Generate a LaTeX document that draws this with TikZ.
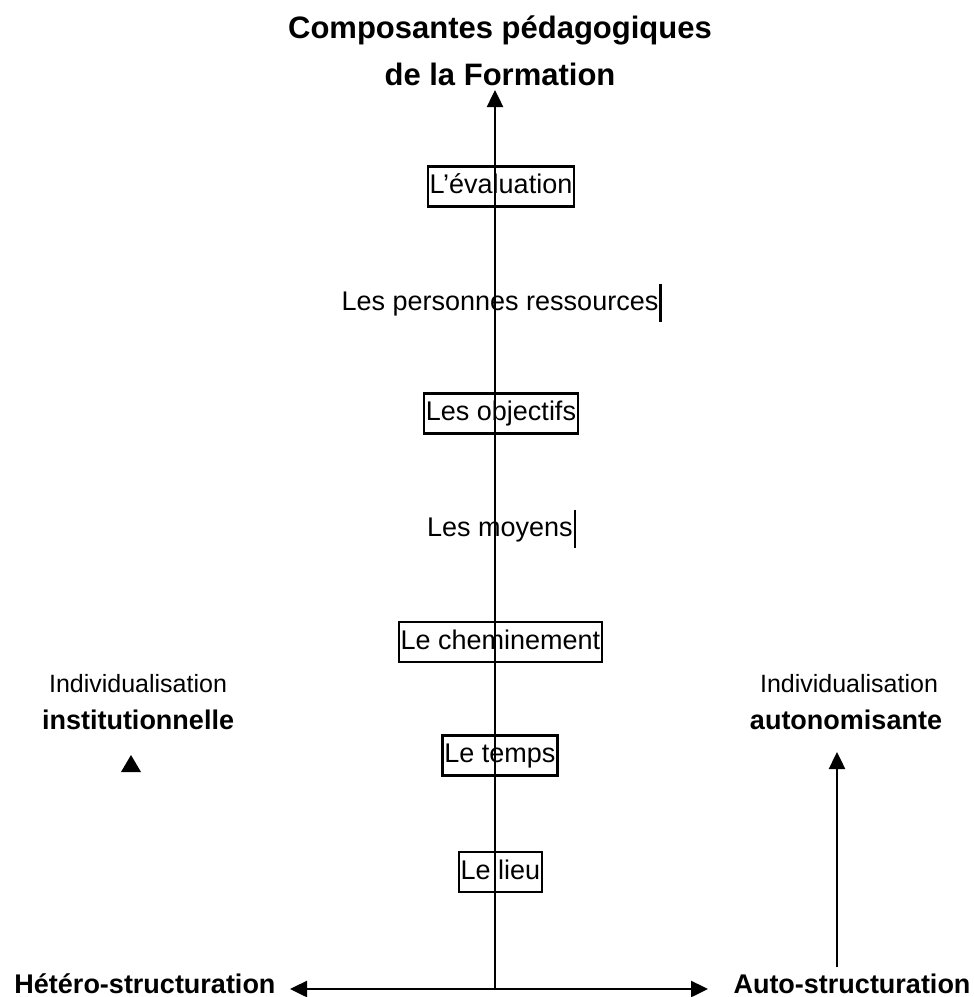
\documentclass[tikz,border=0pt]{standalone}
\usepackage{fontspec}
\setmainfont{Liberation Sans}
\usetikzlibrary{arrows.meta}
\begin{document}
\begin{tikzpicture}[x=1pt,y=-1pt,
  lbl/.style={font=\fontsize{27}{32}\selectfont, inner xsep=2pt, inner ysep=0pt,
    text height=20pt, text depth=6pt, minimum height=40pt},
  boxed/.style={lbl, draw, line width=2.2pt},
  barred/.style={lbl, minimum height=38pt},
  side/.style={font=\fontsize{25}{30}\selectfont, inner sep=0pt},
  sidebold/.style={font=\bfseries\fontsize{27}{32}\selectfont, inner sep=0pt},
  axis/.style={line width=2.5pt, -{Triangle[length=17pt,width=16pt]}},
]
\useasboundingbox (0,0) rectangle (974,997);

% title
\node[font=\bfseries\fontsize{31}{47}\selectfont, align=center, inner sep=0pt]
  (title) at (500,51) {Composantes pédagogiques\\de la Formation};

% components along the vertical axis
\node[boxed]  (eval) at (501,186.5) {L'évaluation};
\node[barred] (pers) at (500,303)   {Les personnes ressources};
\node[boxed]  (obj)  at (501,413.5) {Les objectifs};
\node[barred] (moy)  at (500,529)   {Les moyens};
\node[boxed]  (chem) at (500.5,642) {Le cheminement};
\node[boxed]  (temps) at (500,755.5) {Le temps};
\node[boxed]  (lieu) at (500.5,872) {Le lieu};
\draw[line width=2.2pt] (pers.north east) -- (pers.south east);
\draw[line width=2.2pt] (moy.north east) -- (moy.south east);

% side labels
\node[side] (indL) at (138,684) {Individualisation};
\node[sidebold] (inst) at (138,720) {institutionnelle};
\node[side] (indR) at (849,684) {Individualisation};
\node[sidebold] (auton) at (846,720) {autonomisante};
\node[sidebold, anchor=base] (hetero) at (145,993) {Hétéro-structuration};
\node[sidebold, anchor=base] (auto) at (852,993) {Auto-structuration};

% axes
\coordinate (o) at (495,989);
\coordinate (topTip) at (495,90);
\coordinate (leftTip) at (290,989);
\coordinate (rightTip) at (708,989);
\coordinate (rBase) at (837,967);
\coordinate (rTip) at (837,752);
\draw[axis] (o) -- (topTip);
\draw[axis] (o) -- (leftTip);
\draw[axis] (o) -- (rightTip);
\draw[axis] (rBase) -- (rTip);

% lone arrowhead under the left label
\coordinate (lTri) at (131,764);
\fill (lTri) ++(0,-9) -- ++(10,17) -- ++(-20,0) -- cycle;
\end{tikzpicture}
\end{document}
